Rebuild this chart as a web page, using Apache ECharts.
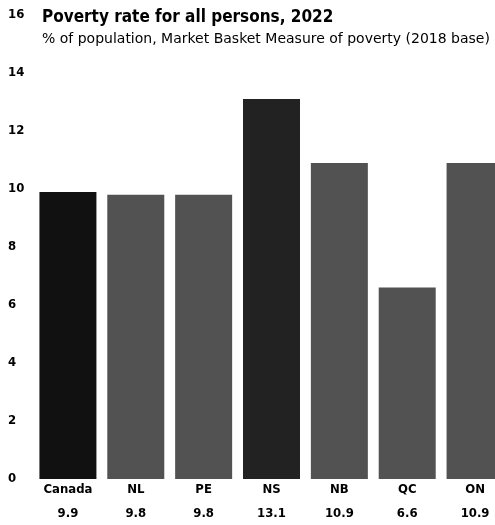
<!DOCTYPE html>
<html>
<head>
<meta charset="utf-8">
<script src="https://cdn.jsdelivr.net/npm/echarts@6/dist/echarts.min.js"></script>
<style>
html,body{margin:0;padding:0;background:#fff;overflow:hidden;width:495px;height:525px;}
#chart{width:509px;height:525px;}
</style>
</head>
<body>
<div id="chart"></div>
<script>
const categories = ["Canada", "NL", "PE", "NS", "NB", "QC", "ON"];
const povertyRates = [9.9, 9.8, 9.8, 13.1, 10.9, 6.6, 10.9];
const barColors = ["#111111", "#525252", "#525252", "#222222", "#525252", "#525252", "#525252"];
const yTicks = [0, 2, 4, 6, 8, 10, 12, 14, 16];

const FONT = "'DejaVu Sans Condensed', 'Liberation Sans', sans-serif";
const FONT_W = "'DejaVu Sans', 'Liberation Sans', sans-serif";
const chart = echarts.init(document.getElementById('chart'));
chart.setOption({
  animation: false,
  backgroundColor: '#ffffff',
  title: {
    text: 'Poverty rate for all persons, 2022',
    subtext: '% of population, Market Basket Measure of poverty (2018 base)',
    left: 37,
    top: 4,
    itemGap: 6,
    textStyle: { fontFamily: FONT, fontSize: 17, fontWeight: 'bold', color: '#000' },
    subtextStyle: { fontFamily: FONT_W, fontSize: 14, color: '#000' }
  },
  grid: { left: 34, right: 0, top: 15, bottom: 46 },
  xAxis: {
    type: 'category',
    data: categories,
    axisLine: { show: false },
    axisTick: { show: false },
    axisLabel: {
      margin: 5,
      interval: 0,
      formatter: function (v, i) {
        return '{c|' + v + '}\n{v|' + povertyRates[i].toFixed(1) + '}';
      },
      rich: {
        c: { fontFamily: FONT, fontSize: 13, fontWeight: 'bold', color: '#000', lineHeight: 12 },
        v: { fontFamily: FONT, fontSize: 13, fontWeight: 'bold', color: '#000', lineHeight: 36 }
      }
    }
  },
  yAxis: {
    type: 'value',
    min: yTicks[0],
    max: yTicks[yTicks.length - 1],
    interval: 2,
    axisLine: { show: false },
    axisTick: { show: false },
    splitLine: { show: false },
    axisLabel: {
      align: 'left',
      margin: 26,
      fontFamily: FONT,
      fontSize: 13,
      fontWeight: 'bold',
      color: '#000'
    }
  },
  series: [{
    type: 'bar',
    data: povertyRates.map((v, i) => ({ value: v, itemStyle: { color: barColors[i] } })),
    barWidth: '84%',
    label: { show: false }
  }]
});
</script>
</body>
</html>
